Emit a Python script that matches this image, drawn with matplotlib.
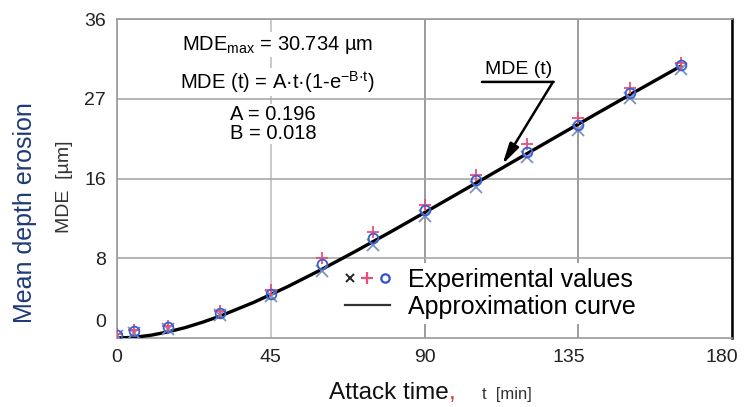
import matplotlib
matplotlib.use("Agg")
import matplotlib.pyplot as plt
import matplotlib.transforms as mtransforms
from matplotlib.lines import Line2D
from matplotlib.legend_handler import HandlerTuple

plt.rcParams["font.family"] = ["Liberation Sans", "DejaVu Sans"]
plt.rcParams["mathtext.fontset"] = "custom"
plt.rcParams["mathtext.rm"] = "Liberation Sans"
plt.rcParams["mathtext.it"] = "Liberation Sans"

# experimental values (three repeated runs), attack time in min, MDE in um
t_exp = [0, 5, 15, 30, 45, 60, 75, 90, 105, 120, 135, 150, 165]
mde_x = [0.2, 0.6, 1.0, 2.6, 4.7, 7.6, 10.5, 13.8, 17.0, 20.4, 23.5, 27.1, 30.4]
mde_plus = [0.4, 0.9, 1.4, 3.0, 5.4, 9.0, 12.0, 15.0, 18.4, 21.9, 24.8, 28.2, 31.0]
mde_o = [0.3, 0.8, 1.2, 2.8, 5.0, 8.3, 11.3, 14.4, 17.8, 21.0, 24.0, 27.6, 30.8]

# approximation curve
t_fit = [0, 5, 10, 15, 20, 25, 30, 40, 50, 60, 70, 80, 90, 100, 110, 120,
         130, 140, 150, 160, 165]
mde_fit = [0, 0.08, 0.32, 0.70, 1.18, 1.78, 2.45, 4.02, 5.81, 7.76, 9.83,
           11.96, 14.15, 16.36, 18.58, 20.81, 23.03, 25.24, 27.43, 29.6, 30.68]

x_ticks = [0, 45, 90, 135, 180]
y_ticks = [9, 18, 27, 36]
y_tick_labels = ["8", "16", "27", "36"]

fig = plt.figure(figsize=(7.44, 4.07), dpi=100)
ax = fig.add_axes([0.1573, 0.1695, 0.8266, 0.7838])

ax.plot(t_fit, mde_fit, color="black", lw=2.4, zorder=3)
ax.plot(t_exp, mde_x, ls="none", marker="x", ms=8, mew=1.3, color="#7d92c2", zorder=4)
ax.plot(t_exp, mde_plus, ls="none", marker="+", ms=9, mew=1.3, color="#e8507a", zorder=4)
ax.plot(t_exp, mde_o, ls="none", marker="o", ms=7, mew=1.3, mfc="none",
        mec="#3a5fd0", zorder=4)

ax.set_xlim(0, 180)
ax.set_ylim(0, 36)
ax.set_xticks(x_ticks)
ax.set_yticks(y_ticks)
ax.set_yticklabels(y_tick_labels)
ax.tick_params(length=0, labelsize=14, labelcolor="#222222", pad=8)
ax.annotate("0", xy=(0, 0), xycoords=("axes fraction", "data"),
            xytext=(-8, 11.5), textcoords="offset points",
            ha="right", va="center", fontsize=14, color="#222222")

# last two x labels sit a little left of their ticks in the original
xlabels = ax.get_xticklabels()
for lab, dx in zip(xlabels[3:], [-9, -10]):
    lab.set_transform(lab.get_transform() +
                      mtransforms.ScaledTranslation(dx / 100, 0, fig.dpi_scale_trans))

ax.grid(True, color="#a8a8a8", lw=1.2)
xg = ax.xaxis.get_gridlines()
xg[1].set_color("#c0c0c0")
xg[2].set_color("#8a8a8a")
xg[3].set_color("#8a8a8a")
ax.set_axisbelow(True)
for side in ["left", "top", "bottom"]:
    ax.spines[side].set_color("#9a9a9a")
    ax.spines[side].set_linewidth(1.2)
ax.spines["right"].set_color("black")
ax.spines["right"].set_linewidth(1.8)

# axis titles
fig.text(0.034, 0.478, "Mean depth erosion", rotation=90, ha="center", va="center",
         fontsize=18, color="#1f3a78")
fig.text(0.087, 0.54, "MDE  [µm]", rotation=90, ha="center", va="center",
         fontsize=14, color="#333333")
xl = fig.text(0.442, 0.02, "Attack time", ha="left", va="baseline",
              fontsize=17.5, color="#111111")
cm = fig.text(0.0, 0.0, ",", ha="left", va="baseline", fontsize=17.5, color="#d83020")
fig.canvas.draw()
bb = xl.get_window_extent().transformed(fig.transFigure.inverted())
cm.set_position((bb.x1, 0.02))
fig.text(bb.x1 + 0.045, 0.02, "t  [min]", ha="left", va="baseline",
         fontsize=12, color="#333333")

# formula block
box = dict(facecolor="white", edgecolor="none", pad=1)
ax.text(47, 33.1, "MDE$_{\\mathrm{max}}$ = 30.734 µm", ha="center", va="center",
        fontsize=14.5, bbox=box)
ax.text(47, 28.9, "MDE (t) = A·t·(1-e$^{\\mathrm{-B·t}}$)", ha="center", va="center",
        fontsize=14.5, bbox=box)
ax.text(45.7, 25.2, "A = 0.196", ha="center", va="center", fontsize=14.5, bbox=box)
ax.text(45.7, 23.1, "B = 0.018", ha="center", va="center", fontsize=14.5, bbox=box)

# curve label with underline and arrow
ax.text(117.4, 30.3, "MDE (t)", ha="center", va="center", fontsize=14)
ax.annotate("", xy=(106.8, 28.9), xytext=(127.8, 28.9),
            arrowprops=dict(arrowstyle="-", lw=1.8, color="black",
                            shrinkA=0, shrinkB=0))
ax.annotate("", xy=(112.8, 19.6), xytext=(127.6, 28.9),
            arrowprops=dict(arrowstyle="-|>,head_length=0.9,head_width=0.22",
                            lw=1.8, color="black", shrinkA=0, shrinkB=0,
                            mutation_scale=14))

# legend
h_x = Line2D([], [], ls="none", marker="x", ms=6, mew=1.4, color="#222222")
h_p = Line2D([], [], ls="none", marker="+", ms=8, mew=1.6, color="#e8507a")
h_o = Line2D([], [], ls="none", marker="o", ms=6, mew=1.6, mfc="none", mec="#3050d0")
h_line = Line2D([], [], color="#333333", lw=1.6)
leg = ax.legend([(h_x, h_p, h_o), h_line],
                ["Experimental values", "Approximation curve"],
                handler_map={tuple: HandlerTuple(ndivide=None, pad=0.3)},
                loc="upper left", bbox_to_anchor=(0.362, 0.235),
                borderaxespad=0, frameon=True, fancybox=False,
                facecolor="white", edgecolor="none", framealpha=1,
                fontsize=18, handlelength=1.8, handletextpad=0.75,
                labelspacing=0.1, borderpad=0.2)
leg.set_zorder(5)

fig.savefig("out.png", dpi=100)
